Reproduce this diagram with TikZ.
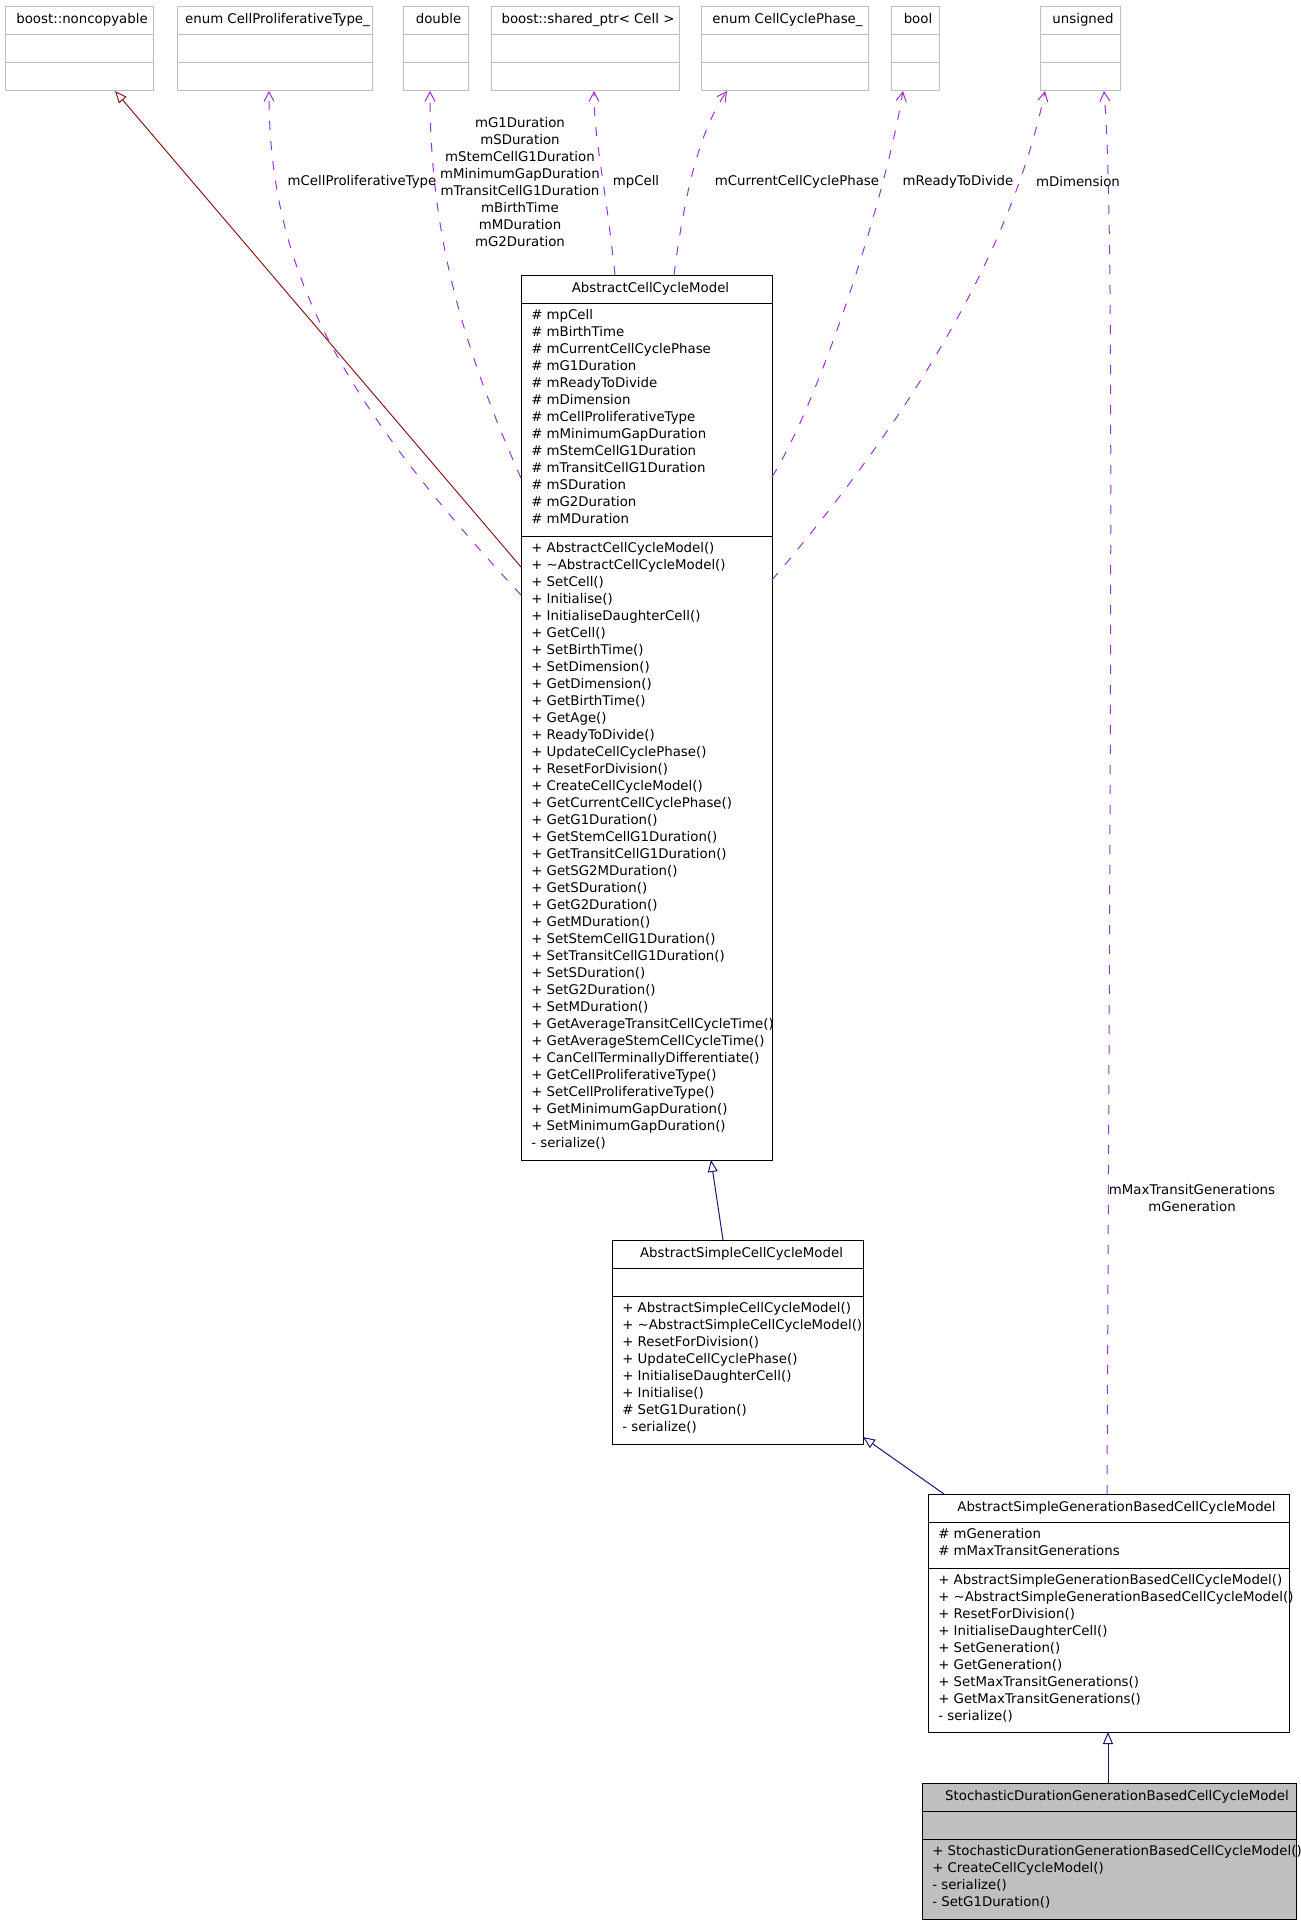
\documentclass[tikz,border=0pt]{standalone}
\usepackage{fontspec}
\setmainfont{DejaVu Sans}
\usetikzlibrary{arrows.meta,calc}

\definecolor{usepurple}{HTML}{9A32CD}
\definecolor{pubblue}{HTML}{191970}
\definecolor{privred}{HTML}{8B1A1A}
\definecolor{boxgrey}{HTML}{BFBFBF}

\newcommand{\umlfont}{\fontsize{10pt}{12.75pt}\selectfont}
\newcommand{\splitbox}[3][black]{%
  \draw[#1, line width=0.75pt] ($(#2.north west)+(0,#3)$) -- ($(#2.north east)+(0,#3)$);}

\tikzset{
  classbox/.style={draw=black, line width=0.75pt, inner sep=0pt, outer sep=0pt, anchor=north west},
  extbox/.style={classbox, draw=boxgrey},
  curbox/.style={classbox, fill=boxgrey},
  title/.style={anchor=base, inner sep=0pt, font=\umlfont},
  members/.style={anchor=north west, inner sep=0pt, align=left, font=\umlfont, execute at begin node=\strut},
  edgelabel/.style={inner sep=0pt, align=center, font=\umlfont},
  inherit/.style={draw=#1, line width=0.75pt, -{Triangle[open, length=9pt, width=7.5pt]}},
  usage/.style={draw=usepurple, line width=0.75pt, dash pattern=on 6.75pt off 8.25pt,
    -{Straight Barb[length=7pt, width=7.5pt]}},
}

\begin{document}
\begin{tikzpicture}[x=0.75pt, y=-0.75pt]
\useasboundingbox (0,0) rectangle (1300,1923);

% used types along the top
\node[extbox, minimum width=148*0.75pt, minimum height=84*0.75pt] (noncop) at (5,7) {};
\node[extbox, minimum width=195*0.75pt, minimum height=84*0.75pt] (cptype) at (177,7) {};
\node[extbox, minimum width=65*0.75pt, minimum height=84*0.75pt] (dbl) at (403,7) {};
\node[extbox, minimum width=188*0.75pt, minimum height=84*0.75pt] (shptr) at (491,7) {};
\node[extbox, minimum width=167*0.75pt, minimum height=84*0.75pt] (ccphase) at (701,7) {};
\node[extbox, minimum width=48*0.75pt, minimum height=84*0.75pt] (boolt) at (891,7) {};
\node[extbox, minimum width=80*0.75pt, minimum height=84*0.75pt] (unsig) at (1040,7) {};
\foreach \b in {noncop,cptype,dbl,shptr,ccphase,boolt,unsig} {
  \splitbox[boxgrey]{\b}{28}
  \splitbox[boxgrey]{\b}{56}
}
\node[title] (noncoptitle) at ($(noncop.north)+(3,17)$) {boost::noncopyable};
\node[title] (cptypetitle) at ($(cptype.north)+(3,17)$) {enum CellProliferativeType\_};
\node[title] (dbltitle) at ($(dbl.north)+(3,17)$) {double};
\node[title] (shptrtitle) at ($(shptr.north)+(3,17)$) {boost::shared\_ptr< Cell >};
\node[title] (ccphasetitle) at ($(ccphase.north)+(3,17)$) {enum CellCyclePhase\_};
\node[title] (boolttitle) at ($(boolt.north)+(3,17)$) {bool};
\node[title] (unsigtitle) at ($(unsig.north)+(3,17)$) {unsigned};

% AbstractCellCycleModel
\node[classbox, minimum width=251*0.75pt, minimum height=885*0.75pt] (acm) at (521,275) {};
\splitbox{acm}{28}
\splitbox{acm}{261}
\node[title] (acmtitle) at ($(acm.north)+(4,17.5)$) {AbstractCellCycleModel};
\node[members] (acmattr) at ($(acm.north west)+(10,34)$) {\# mpCell\\\# mBirthTime\\\# mCurrentCellCyclePhase\\\# mG1Duration\\\# mReadyToDivide\\\# mDimension\\\# mCellProliferativeType\\\# mMinimumGapDuration\\\# mStemCellG1Duration\\\# mTransitCellG1Duration\\\# mSDuration\\\# mG2Duration\\\# mMDuration};
\node[members] (acmops) at ($(acm.north west)+(10,267)$) {+ AbstractCellCycleModel()\\+ \textasciitilde AbstractCellCycleModel()\\+ SetCell()\\+ Initialise()\\+ InitialiseDaughterCell()\\+ GetCell()\\+ SetBirthTime()\\+ SetDimension()\\+ GetDimension()\\+ GetBirthTime()\\+ GetAge()\\+ ReadyToDivide()\\+ UpdateCellCyclePhase()\\+ ResetForDivision()\\+ CreateCellCycleModel()\\+ GetCurrentCellCyclePhase()\\+ GetG1Duration()\\+ GetStemCellG1Duration()\\+ GetTransitCellG1Duration()\\+ GetSG2MDuration()\\+ GetSDuration()\\+ GetG2Duration()\\+ GetMDuration()\\+ SetStemCellG1Duration()\\+ SetTransitCellG1Duration()\\+ SetSDuration()\\+ SetG2Duration()\\+ SetMDuration()\\+ GetAverageTransitCellCycleTime()\\+ GetAverageStemCellCycleTime()\\+ CanCellTerminallyDifferentiate()\\+ GetCellProliferativeType()\\+ SetCellProliferativeType()\\+ GetMinimumGapDuration()\\+ SetMinimumGapDuration()\\- serialize()};

% AbstractSimpleCellCycleModel
\node[classbox, minimum width=251*0.75pt, minimum height=204*0.75pt] (ascm) at (612,1240) {};
\splitbox{ascm}{28}
\splitbox{ascm}{56}
\node[title] (ascmtitle) at ($(ascm.north)+(4,17.5)$) {AbstractSimpleCellCycleModel};
\node[members] (ascmops) at ($(ascm.north west)+(10,62)$) {+ AbstractSimpleCellCycleModel()\\+ \textasciitilde AbstractSimpleCellCycleModel()\\+ ResetForDivision()\\+ UpdateCellCyclePhase()\\+ InitialiseDaughterCell()\\+ Initialise()\\\# SetG1Duration()\\- serialize()};

% AbstractSimpleGenerationBasedCellCycleModel
\node[classbox, minimum width=361*0.75pt, minimum height=238*0.75pt] (asgbm) at (928,1494) {};
\splitbox{asgbm}{28}
\splitbox{asgbm}{74}
\node[title] (asgbmtitle) at ($(asgbm.north)+(8,17.5)$) {AbstractSimpleGenerationBasedCellCycleModel};
\node[members] (asgbmattr) at ($(asgbm.north west)+(10,34)$) {\# mGeneration\\\# mMaxTransitGenerations};
\node[members] (asgbmops) at ($(asgbm.north west)+(10,80)$) {+ AbstractSimpleGenerationBasedCellCycleModel()\\+ \textasciitilde AbstractSimpleGenerationBasedCellCycleModel()\\+ ResetForDivision()\\+ InitialiseDaughterCell()\\+ SetGeneration()\\+ GetGeneration()\\+ SetMaxTransitGenerations()\\+ GetMaxTransitGenerations()\\- serialize()};

% StochasticDurationGenerationBasedCellCycleModel
\node[curbox, minimum width=374*0.75pt, minimum height=136*0.75pt] (sdgbm) at (922,1783) {};
\splitbox{sdgbm}{28}
\splitbox{sdgbm}{56}
\node[title] (sdgbmtitle) at ($(sdgbm.north)+(8,17.5)$) {StochasticDurationGenerationBasedCellCycleModel};
\node[members] (sdgbmops) at ($(sdgbm.north west)+(10,62)$) {+ StochasticDurationGenerationBasedCellCycleModel()\\+ CreateCellCycleModel()\\- serialize()\\- SetG1Duration()};

% inheritance
\draw[inherit=privred] ($(acm.north west)+(0,292)$) -- ($(noncop.south west)+(110,0)$);
\draw[inherit=pubblue] ($(ascm.north west)+(111,0)$) -- ($(acm.south west)+(190,0)$);
\draw[inherit=pubblue] ($(asgbm.north west)+(16,0)$) -- ($(ascm.north east)+(0,197)$);
\draw[inherit=pubblue] ($(sdgbm.north west)+(186,0)$) -- ($(asgbm.south west)+(180,0)$);

% member usage
\draw[usage] ($(acm.north west)+(0,320)$) .. controls +(-191,-205) and +(0,169) .. ($(cptype.south west)+(92,0)$);
\draw[usage] ($(acm.north west)+(0,203)$) .. controls +(-66,-148) and +(0,129) .. ($(dbl.south west)+(27,0)$);
\draw[usage] ($(acm.north west)+(94,0)$) .. controls +(-10,-95) and +(0,49) .. ($(shptr.south west)+(103,0)$);
\draw[usage] ($(acm.north west)+(153,0)$) .. controls +(11,-85) and +(-27,39) .. ($(ccphase.south west)+(26,0)$);
\draw[usage] ($(acm.north east)+(0,202)$) .. controls +(48,-77) and +(-18,109) .. ($(boolt.south west)+(12,0)$);
\draw[usage] ($(acm.north east)+(0,305)$) .. controls +(128,-150) and +(-35,169) .. ($(unsig.south west)+(5,0)$);
\draw[usage] ($(asgbm.north west)+(179,0)$) .. controls +(4,-900) and +(10,120) .. ($(unsig.south west)+(64,0)$);

% labels of the usage edges
\node[edgelabel] (lblcptype) at (362,182) {mCellProliferativeType};
\node[edgelabel] (lbldbl) at (520,182.5) {mG1Duration\\mSDuration\\mStemCellG1Duration\\mMinimumGapDuration\\mTransitCellG1Duration\\mBirthTime\\mMDuration\\mG2Duration};
\node[edgelabel] (lblshptr) at (636,182) {mpCell};
\node[edgelabel] (lblccphase) at (797,182) {mCurrentCellCyclePhase};
\node[edgelabel] (lblbool) at (958,182) {mReadyToDivide};
\node[edgelabel] (lblunsig) at (1078,182) {mDimension};
\node[edgelabel] (lblgen) at (1192,1198) {mMaxTransitGenerations\\mGeneration};
\end{tikzpicture}
\end{document}
